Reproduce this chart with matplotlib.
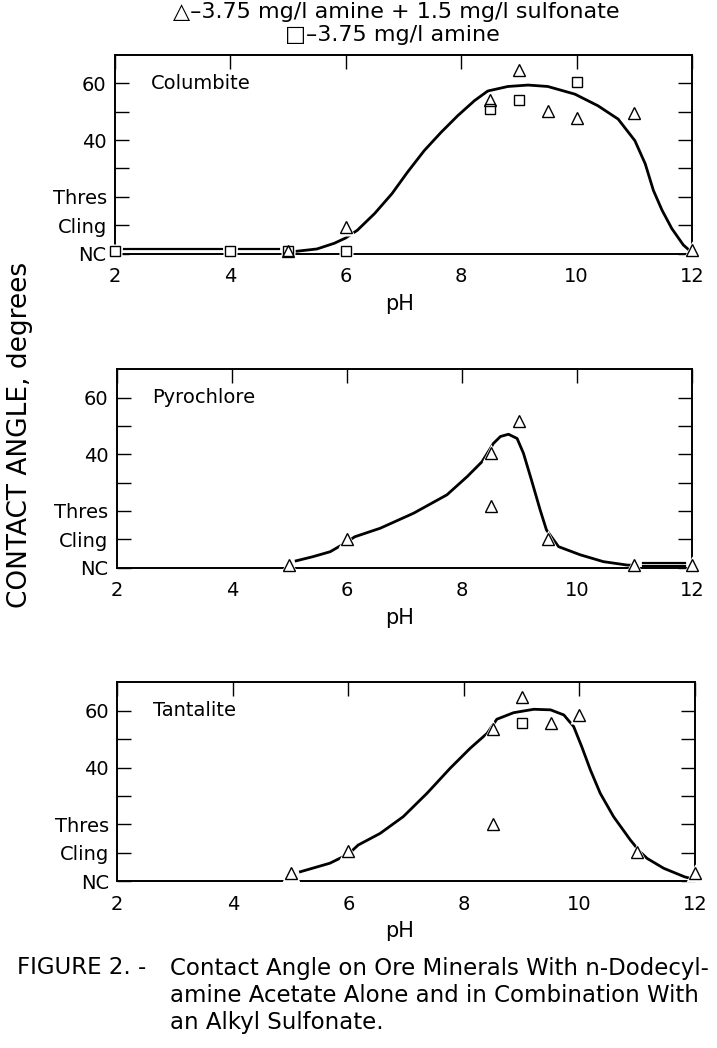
import matplotlib
matplotlib.use('Agg')
import matplotlib.pyplot as plt

plt.rcParams['font.family'] = ['DejaVu Sans']

# tick positions / labels
ph_ticks = [2, 4, 6, 8, 10, 12]
angle_ticks = [0, 10, 20, 30, 40, 50, 60]
angle_labels = ['NC', 'Cling', 'Thres', '', '40', '', '60']

# Columbite
col_tri_x = [5, 6, 8.5, 9, 9.5, 10, 11, 12]
col_tri_y = [1, 9.4, 54, 64.6, 50.4, 47.7, 49.5, 1.2]
col_sq_x = [2, 4, 5, 6, 8.5, 9, 10]
col_sq_y = [1, 1, 1, 1, 51, 54, 60.5]
col_curve_x = [5.15, 5.5, 5.8, 6.0, 6.2, 6.5, 6.8, 7.07, 7.36, 7.65, 7.94, 8.23, 8.46,
               8.81, 9.16, 9.5, 9.97, 10.37, 10.72, 11.01, 11.19, 11.33, 11.48, 11.65,
               11.85, 11.95]
col_curve_y = [0.8, 1.6, 3.6, 5.5, 8.2, 14.1, 21.1, 28.7, 36.3, 42.7, 48.6, 53.9, 57.3,
               58.9, 59.4, 58.9, 56.2, 52.1, 47.4, 39.8, 31.6, 22.3, 15.3, 8.8,
               3.0, 1.2]
col_nc_x = [[2.15, 3.85], [4.15, 4.85]]
col_nc_y = [1.6, 1.6]

# Pyrochlore
pyr_tri_x = [5, 6, 8.5, 8.5, 9, 9.5, 11, 12]
pyr_tri_y = [0.9, 10, 40.6, 21.8, 51.9, 10, 0.9, 0.9]
pyr_curve_x = [5.12, 5.4, 5.71, 5.94, 6.14, 6.58, 7.16, 7.74, 8.09, 8.35, 8.55, 8.67,
               8.81, 8.96, 9.07, 9.21, 9.36, 9.47, 9.68, 10.06, 10.46, 10.87, 11.0]
pyr_curve_y = [2.4, 3.8, 5.6, 8.3, 10.9, 13.9, 19.2, 25.7, 32.1, 37.4, 43.9, 46.3,
               47.1, 45.6, 40.4, 30.9, 20.4, 13.3, 7.4, 4.5, 2.1, 0.9, 0.8]
pyr_nc_x = [[11.15, 11.88], [11.15, 11.88]]
pyr_nc_y = [1.7, 0.5]

# Tantalite
tan_tri_x = [5, 6, 8.5, 8.5, 9, 9.5, 10, 11, 12]
tan_tri_y = [2.7, 10.7, 53.4, 20.1, 64.7, 55.8, 58.5, 10.4, 2.7]
tan_sq_x = [9]
tan_sq_y = [55.6]
tan_curve_x = [5.17, 5.68, 6.0, 6.17, 6.55, 6.95, 7.36, 7.76, 8.11, 8.40, 8.57, 8.86,
               9.21, 9.50, 9.73, 9.90, 10.04, 10.19, 10.36, 10.59, 10.88, 11.04, 11.17,
               11.46, 11.82, 11.95]
tan_curve_y = [3.3, 6.3, 9.5, 12.7, 16.8, 22.7, 30.9, 39.7, 46.8, 52.0, 57.0, 59.3,
               60.5, 60.3, 58.5, 54.4, 47.3, 39.1, 30.9, 22.7, 14.5, 10.5, 8.0,
               4.5, 1.5, 0.8]

W, H = 717, 1048
fig = plt.figure(figsize=(W / 100, H / 100), dpi=100)


def box(left, top, right, bottom):
    return [left / W, 1 - bottom / H, (right - left) / W, (bottom - top) / H]


panels = [
    ('Columbite', box(115, 55, 692, 253.5), col_curve_x, col_curve_y, col_nc_x, col_nc_y,
     col_tri_x, col_tri_y, col_sq_x, col_sq_y),
    ('Pyrochlore', box(116.7, 369.4, 692, 567.6), pyr_curve_x, pyr_curve_y, pyr_nc_x, pyr_nc_y,
     pyr_tri_x, pyr_tri_y, [], []),
    ('Tantalite', box(117.3, 682.3, 695, 881.1), tan_curve_x, tan_curve_y, [], [],
     tan_tri_x, tan_tri_y, tan_sq_x, tan_sq_y),
]

for name, pos, cx, cy, ncx, ncy, tx, ty, sx, sy in panels:
    ax = fig.add_axes(pos)
    ax.plot(cx, cy, color='black', lw=2.0, zorder=2, solid_joinstyle='round')
    for segx, yy in zip(ncx, ncy):
        ax.plot(segx, [yy, yy], color='black', lw=1.6, zorder=2)
    # white halo so the curve breaks around each symbol
    ax.plot(tx, ty, ls='none', marker='^', ms=13, mfc='white', mec='none', zorder=3, clip_on=False)
    ax.plot(sx, sy, ls='none', marker='s', ms=10, mfc='white', mec='none', zorder=3, clip_on=False)
    ax.plot(sx, sy, ls='none', marker='s', ms=6.5, mfc='none', mec='black', mew=1.0, zorder=4, clip_on=False)
    ax.plot(tx, ty, ls='none', marker='^', ms=8, mfc='none', mec='black', mew=1.0, zorder=5, clip_on=False)

    ax.set_xlim(2, 12)
    ax.set_ylim(0, 70)
    ax.set_xticks(ph_ticks)
    ax.set_xticklabels([str(t) for t in ph_ticks])
    ax.set_yticks(angle_ticks)
    ax.set_yticklabels(angle_labels)
    ax.tick_params(axis='x', direction='in', bottom=False, top=True, length=10, width=1.0,
                   labelsize=14, pad=10)
    ax.tick_params(axis='y', direction='in', left=True, right=True, length=10, width=1.0,
                   labelsize=14, pad=6)
    for s in ax.spines.values():
        s.set_linewidth(1.4)
    ax.text(2.62, 60, name, fontsize=14, va='center', ha='left')

    bottom_px = (1 - pos[1]) * H
    fig.text(400 / W, 1 - (bottom_px + 50) / H, 'pH', fontsize=15, ha='center', va='center')

# symbol key
fig.text(396 / W, 1 - 12 / H, '\u25b3\u20133.75 mg/l amine + 1.5 mg/l sulfonate',
         fontsize=16, ha='center', va='center')
fig.text(392 / W, 1 - 35 / H, '\u25a1\u20133.75 mg/l amine',
         fontsize=16, ha='center', va='center')

fig.text(20 / W, 1 - 435 / H, 'CONTACT ANGLE, degrees', fontsize=19, rotation=90,
         ha='center', va='center')

# caption
fig.text(17 / W, 1 - 968 / H, 'FIGURE 2. - ', fontsize=16.5, ha='left', va='center')
fig.text(170 / W, 1 - 968 / H, 'Contact Angle on Ore Minerals With n-Dodecyl-',
         fontsize=16.5, ha='left', va='center')
fig.text(170 / W, 1 - 995 / H, 'amine Acetate Alone and in Combination With',
         fontsize=16.5, ha='left', va='center')
fig.text(170 / W, 1 - 1022 / H, 'an Alkyl Sulfonate.',
         fontsize=16.5, ha='left', va='center')

fig.savefig('out.png', dpi=100)
